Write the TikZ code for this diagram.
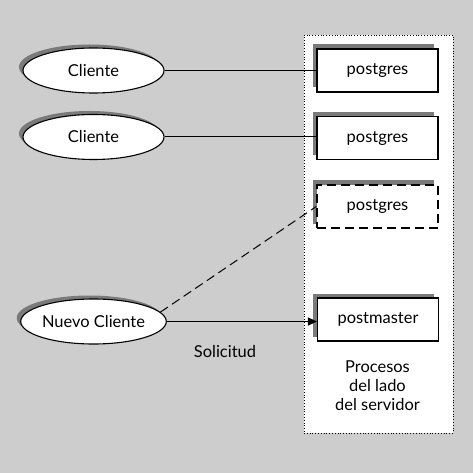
\documentclass[tikz,border=0pt]{standalone}
\usepackage{fontspec}
\setmainfont{Lato}
\usetikzlibrary{shapes.geometric,arrows.meta,shadows}
\definecolor{bggray}{HTML}{CDCDCD}
\definecolor{shgray}{HTML}{7A7A7A}
\tikzset{
  client/.style={ellipse, draw=black, line width=1.1bp, fill=white, minimum width=141bp, minimum height=45bp, inner sep=0pt,
    drop shadow={shadow xshift=-4bp, shadow yshift=3.5bp, fill=shgray, opacity=1}},
  procbox/.style={rectangle, draw=black, line width=1.1bp, fill=white, minimum width=121bp, minimum height=43bp, inner sep=0pt,
    drop shadow={shadow xshift=-4.5bp, shadow yshift=4.5bp, fill=shgray, opacity=1}},
  newproc/.style={procbox, dash pattern=on 9bp off 5bp, line width=1.4bp},
  conn/.style={line width=1bp, draw=black},
  serverarea/.style={rectangle, draw=black, dotted, line width=0.8bp, fill=white, minimum width=149bp, minimum height=398bp, inner sep=0pt},
  lbl/.style={inner sep=0pt, align=center}
}
\begin{document}
\begin{tikzpicture}[x=1bp,y=-1bp, font=\fontsize{16.5}{19}\selectfont]
\fill[bggray] (0,0) rectangle (473,473);
\useasboundingbox (0,0) rectangle (473,473);
\node[serverarea] (srv) at (378.5,234) {};
\node[client] (c1) at (93.5,70.5) {Cliente};
\node[client] (c2) at (93.5,137) {Cliente};
\node[client] (nc) at (93.5,321.5) {Nuevo Cliente};
\node[procbox] (p1) at (377.5,70.5) {postgres};
\node[procbox] (p2) at (377.5,138) {postgres};
\node[newproc] (p3) at (377.5,206.5) {postgres};
\node[procbox] (pm) at (378,319.5) {postmaster};
\node[lbl] (sol) at (225,352) {Solicitud};
\node[lbl] (proc) at (377.5,386) {Procesos\\del lado\\del servidor};
\draw[conn] (c1.east) -- (c1.east -| p1.west);
\draw[conn] (c2.east) -- (c2.east -| p2.west);
\draw[conn, -{Triangle[length=9bp,width=8bp]}] (nc.east) -- (nc.east -| pm.west);
\draw[conn, dash pattern=on 9bp off 5bp] (nc.8) -- (p3.west);
\end{tikzpicture}
\end{document}
